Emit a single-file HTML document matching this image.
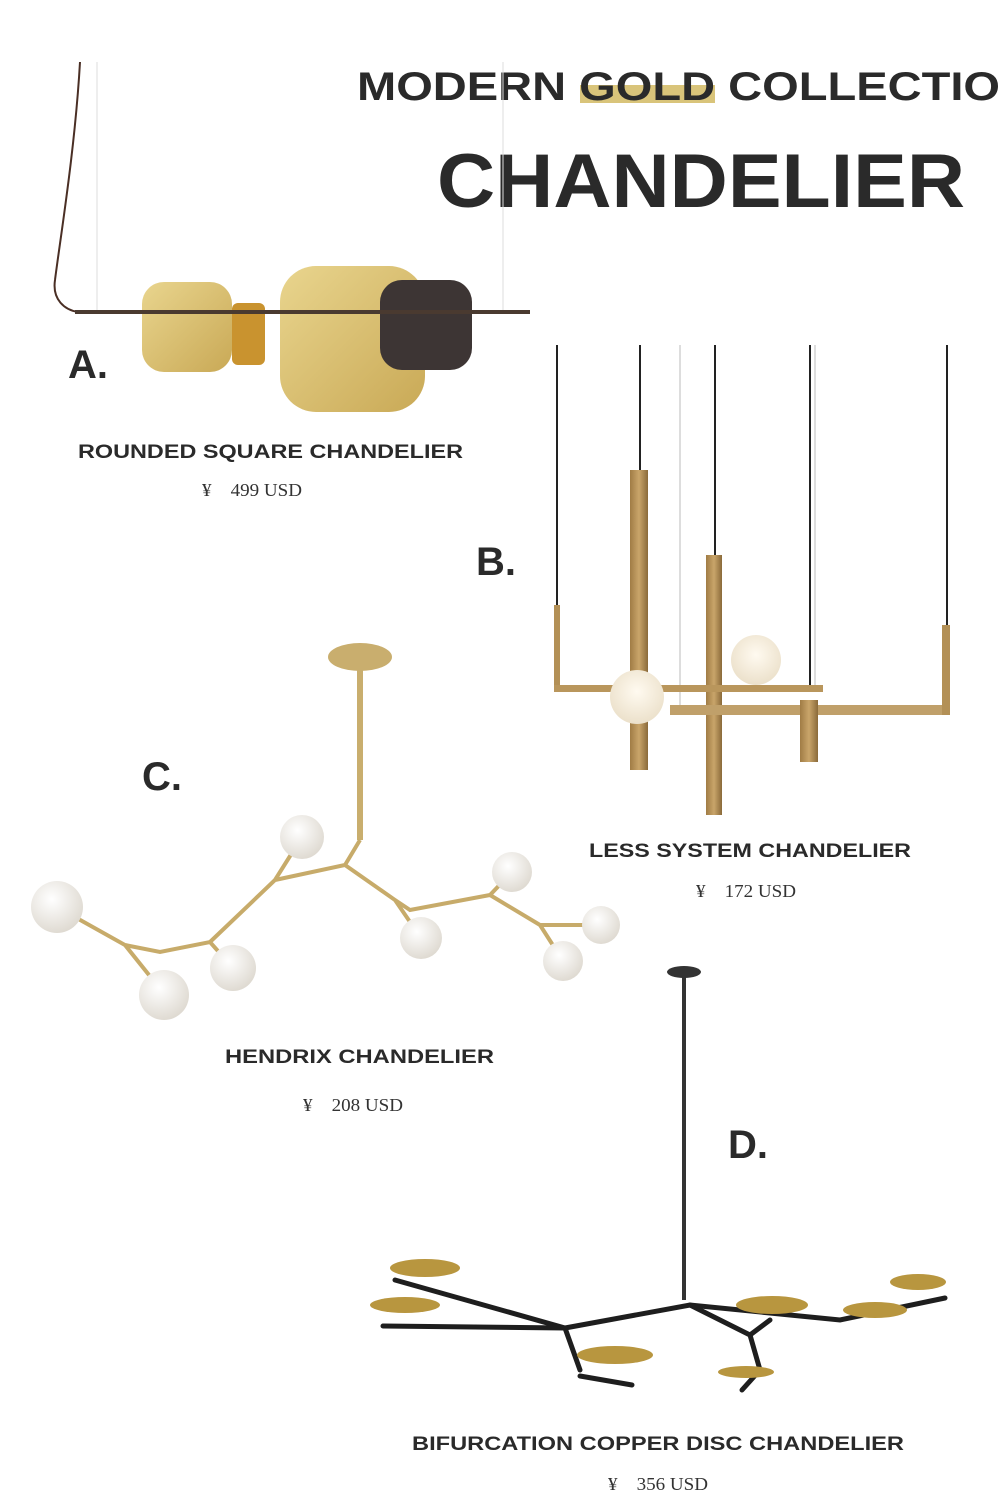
<!DOCTYPE html>
<html><head><meta charset="utf-8"><style>
html,body{margin:0;padding:0;background:#fff}
svg{display:block}
.h{font-family:"Liberation Sans",sans-serif;font-weight:bold;fill:#2a2a2a}
.p{font-family:"Liberation Serif","Noto Serif CJK SC",serif;fill:#333}
</style></head><body>
<svg width="1000" height="1500" viewBox="0 0 1000 1500" xmlns="http://www.w3.org/2000/svg">
<defs>
<linearGradient id="g" x1="0" y1="0" x2="1" y2="1"><stop offset="0" stop-color="#e9d58e"/><stop offset="1" stop-color="#c9a956"/></linearGradient>
<linearGradient id="b" x1="0" y1="0" x2="1" y2="0"><stop offset="0" stop-color="#a07c45"/><stop offset=".5" stop-color="#c9a56a"/><stop offset="1" stop-color="#8a6a3a"/></linearGradient>
<radialGradient id="w" cx=".4" cy=".35" r=".7"><stop offset="0" stop-color="#fff"/><stop offset="1" stop-color="#ddd8cf"/></radialGradient>
<radialGradient id="wg" cx=".5" cy=".4" r=".7"><stop offset="0" stop-color="#fffaf0"/><stop offset="1" stop-color="#e8dcc4"/></radialGradient>
</defs>
<!-- title -->
<rect x="580" y="85" width="135" height="18" fill="#d9c47a"/>
<text x="357" y="100" class="h" font-size="40" textLength="643" lengthAdjust="spacingAndGlyphs">MODERN GOLD COLLECTIO</text>
<text x="437" y="207" class="h" font-size="76" textLength="528" lengthAdjust="spacingAndGlyphs">CHANDELIER</text>

<!-- A -->
<path d="M80 62 C75 150 60 240 55 280 C52 300 65 310 78 312" stroke="#4a2f25" stroke-width="2" fill="none"/>
<line x1="97" y1="62" x2="97" y2="312" stroke="#ddd" stroke-width="1"/>
<line x1="503" y1="62" x2="503" y2="312" stroke="#ddd" stroke-width="1"/>
<rect x="232" y="303" width="33" height="62" rx="6" fill="#c9932f"/>
<rect x="142" y="282" width="90" height="90" rx="22" fill="url(#g)"/>
<rect x="280" y="266" width="145" height="146" rx="36" fill="url(#g)"/>
<rect x="380" y="280" width="92" height="90" rx="22" fill="#3d3534"/>
<rect x="75" y="310" width="455" height="4" fill="#4a3a30"/>
<text x="68" y="378" class="h" font-size="40">A.</text>
<text x="78" y="458" class="h" font-size="19" textLength="385" lengthAdjust="spacingAndGlyphs">ROUNDED SQUARE CHANDELIER</text>
<text x="202" y="496" class="p" font-size="18" textLength="100" lengthAdjust="spacingAndGlyphs">¥　499 USD</text>

<!-- B -->
<g stroke="#222" stroke-width="2">
<line x1="557" y1="345" x2="557" y2="606"/><line x1="640" y1="345" x2="640" y2="472"/>
<line x1="715" y1="345" x2="715" y2="556"/><line x1="810" y1="345" x2="810" y2="686"/>
<line x1="947" y1="345" x2="947" y2="626"/></g>
<g stroke="#bbb" stroke-width="1"><line x1="680" y1="345" x2="680" y2="706"/><line x1="815" y1="345" x2="815" y2="686"/></g>
<rect x="630" y="470" width="18" height="300" fill="url(#b)"/>
<rect x="706" y="555" width="16" height="260" fill="url(#b)"/>
<rect x="554" y="605" width="6" height="87" fill="#b39056"/>
<rect x="554" y="685" width="269" height="7" fill="#b9965c"/>
<rect x="670" y="705" width="280" height="10" fill="#c0a06a"/>
<rect x="942" y="625" width="8" height="90" fill="#b39056"/>
<rect x="800" y="700" width="18" height="62" fill="url(#b)"/>
<circle cx="637" cy="697" r="27" fill="url(#wg)"/>
<circle cx="756" cy="660" r="25" fill="url(#wg)"/>
<text x="476" y="575" class="h" font-size="40">B.</text>
<text x="589" y="857" class="h" font-size="19" textLength="322" lengthAdjust="spacingAndGlyphs">LESS SYSTEM CHANDELIER</text>
<text x="696" y="897" class="p" font-size="18" textLength="100" lengthAdjust="spacingAndGlyphs">¥　172 USD</text>

<!-- C -->
<ellipse cx="360" cy="657" rx="32" ry="14" fill="#c9ae6e"/>
<rect x="357" y="665" width="6" height="175" fill="#c9ae6e"/>
<path d="M57 907 L125 945 L165 995 M125 945 L160 952 L210 942 L233 968 M210 942 L275 880 L302 837 M275 880 L345 865 L360 840 M345 865 L395 900 L421 938 M395 900 L410 910 L490 895 L512 872 M490 895 L540 925 L563 961 M540 925 L601 925" stroke="#c7ab6a" stroke-width="4" fill="none"/>
<g fill="url(#w)">
<circle cx="57" cy="907" r="26"/><circle cx="164" cy="995" r="25"/><circle cx="233" cy="968" r="23"/>
<circle cx="302" cy="837" r="22"/><circle cx="421" cy="938" r="21"/><circle cx="512" cy="872" r="20"/>
<circle cx="563" cy="961" r="20"/><circle cx="601" cy="925" r="19"/></g>
<text x="142" y="790" class="h" font-size="40">C.</text>
<text x="225" y="1063" class="h" font-size="19" textLength="269" lengthAdjust="spacingAndGlyphs">HENDRIX CHANDELIER</text>
<text x="303" y="1111" class="p" font-size="18" textLength="100" lengthAdjust="spacingAndGlyphs">¥　208 USD</text>

<!-- D -->
<ellipse cx="684" cy="972" rx="17" ry="6" fill="#333"/>
<rect x="682" y="975" width="4" height="325" fill="#333"/>
<g stroke="#1e1e1e" stroke-width="5" stroke-linecap="round" fill="none">
<path d="M395 1280 L565 1328 L690 1305 L840 1320 L945 1298"/>
<path d="M383 1326 L565 1328 L580 1370"/>
<path d="M580 1376 L632 1385"/>
<path d="M690 1305 L750 1335 L760 1370 L742 1390"/>
<path d="M750 1335 L770 1320"/>
</g>
<g fill="#b8963f">
<ellipse cx="425" cy="1268" rx="35" ry="9"/><ellipse cx="405" cy="1305" rx="35" ry="8"/>
<ellipse cx="615" cy="1355" rx="38" ry="9"/><ellipse cx="772" cy="1305" rx="36" ry="9"/>
<ellipse cx="875" cy="1310" rx="32" ry="8"/><ellipse cx="918" cy="1282" rx="28" ry="8"/>
<ellipse cx="746" cy="1372" rx="28" ry="6"/></g>
<text x="728" y="1158" class="h" font-size="40">D.</text>
<text x="412" y="1450" class="h" font-size="19" textLength="492" lengthAdjust="spacingAndGlyphs">BIFURCATION COPPER DISC CHANDELIER</text>
<text x="608" y="1490" class="p" font-size="18" textLength="100" lengthAdjust="spacingAndGlyphs">¥　356 USD</text>
</svg>
</body></html>
